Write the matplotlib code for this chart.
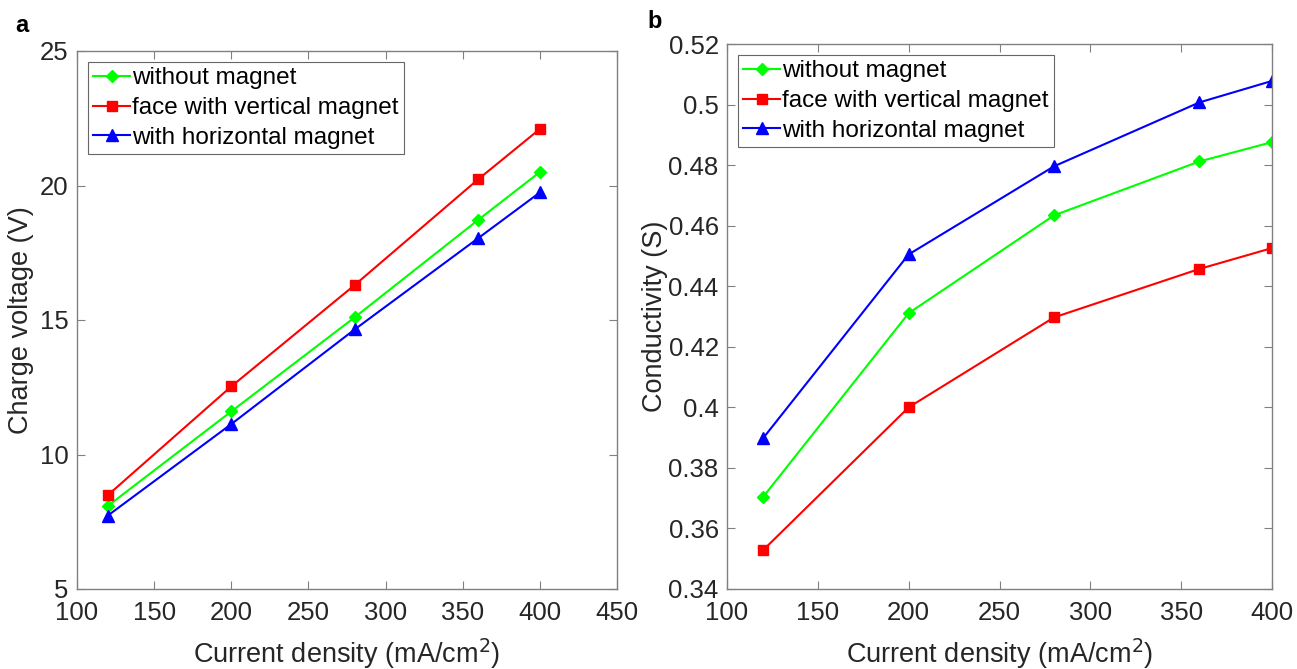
import matplotlib
matplotlib.use("Agg")
import matplotlib.pyplot as plt

plt.rcParams['font.family'] = ['Liberation Sans', 'DejaVu Sans']

current = [120, 200, 280, 360, 400]
labels = ["without magnet", "face with vertical magnet", "with horizontal magnet"]

volt_without = [8.09, 11.6, 15.1, 18.72, 20.5]
volt_vertical = [8.49, 12.53, 16.3, 20.23, 22.1]
volt_horizontal = [7.73, 11.13, 14.65, 18.04, 19.74]

cond_without = [0.3705, 0.4311, 0.4634, 0.4812, 0.4876]
cond_vertical = [0.3529, 0.4000, 0.4297, 0.4457, 0.4526]
cond_horizontal = [0.3899, 0.4505, 0.4796, 0.5007, 0.5078]

xticks_a = [100, 150, 200, 250, 300, 350, 400, 450]
yticks_a = [5, 10, 15, 20, 25]
xticks_b = [100, 150, 200, 250, 300, 350, 400]
yticks_b = [0.34, 0.36, 0.38, 0.4, 0.42, 0.44, 0.46, 0.48, 0.5, 0.52]
yticklabels_b = ["0.34", "0.36", "0.38", "0.4", "0.42", "0.44", "0.46", "0.48", "0.5", "0.52"]

colors = ['#00ff00', '#ff0000', '#0000ff']
markers = ['D', 's', '^']
msizes = [6.5, 6.5, 8.5]

W, H = 1297, 669
fig = plt.figure(figsize=(W / 100, H / 100), dpi=100)

def rect(l, t, r, b):
    return [l / W, 1 - b / H, (r - l) / W, (b - t) / H]

ax1 = fig.add_axes(rect(77, 51, 617, 589))
ax2 = fig.add_axes(rect(727, 44, 1272, 589))

tick_color = '#262626'
spine_color = '#808080'

def style(ax):
    for s in ax.spines.values():
        s.set_color(spine_color)
        s.set_linewidth(1.0)
    ax.tick_params(direction='in', top=True, right=True, length=6, width=0.8,
                   color=spine_color, labelsize=18.5, labelcolor=tick_color)
    ax.tick_params(axis='y', pad=6)
    ax.tick_params(axis='x', pad=9)

for ys, c, m, ms, lab in zip([volt_without, volt_vertical, volt_horizontal], colors, markers, msizes, labels):
    ax1.plot(current, ys, color=c, marker=m, markersize=ms, linewidth=1.5, label=lab)
ax1.set_xlim(100, 450)
ax1.set_ylim(5, 25)
ax1.set_xticks(xticks_a)
ax1.set_yticks(yticks_a)
style(ax1)
ax1.set_xlabel("Current density (mA/cm$^2$)", fontsize=19.5, color=tick_color, labelpad=8)
ax1.set_ylabel("Charge voltage (V)", fontsize=19.5, color=tick_color, labelpad=4)

for ys, c, m, ms, lab in zip([cond_without, cond_vertical, cond_horizontal], colors, markers, msizes, labels):
    ax2.plot(current, ys, color=c, marker=m, markersize=ms, linewidth=1.5, label=lab)
ax2.set_xlim(100, 400)
ax2.set_ylim(0.34, 0.52)
ax2.set_xticks(xticks_b)
ax2.set_yticks(yticks_b)
ax2.set_yticklabels(yticklabels_b)
style(ax2)
ax2.set_xlabel("Current density (mA/cm$^2$)", fontsize=19.5, color=tick_color, labelpad=8)
ax2.set_ylabel("Conductivity (S)", fontsize=19.5, color=tick_color, labelpad=0)

for ax in (ax1, ax2):
    leg = ax.legend(loc='upper left', fontsize=17.5, frameon=True, fancybox=False,
                    handlelength=1.5, handletextpad=0.1, borderpad=0.22,
                    labelspacing=0.32, borderaxespad=0.45)
    leg.get_frame().set_edgecolor('#404040')
    leg.get_frame().set_linewidth(0.8)
    for t in leg.get_texts():
        t.set_color('#000000')

fig.text(22 / W, 1 - 25 / H, "a", fontsize=17, fontweight='bold', ha='center', va='center')
fig.text(655 / W, 1 - 22 / H, "b", fontsize=17, fontweight='bold', ha='center', va='center')

fig.savefig("out.png", dpi=100)
